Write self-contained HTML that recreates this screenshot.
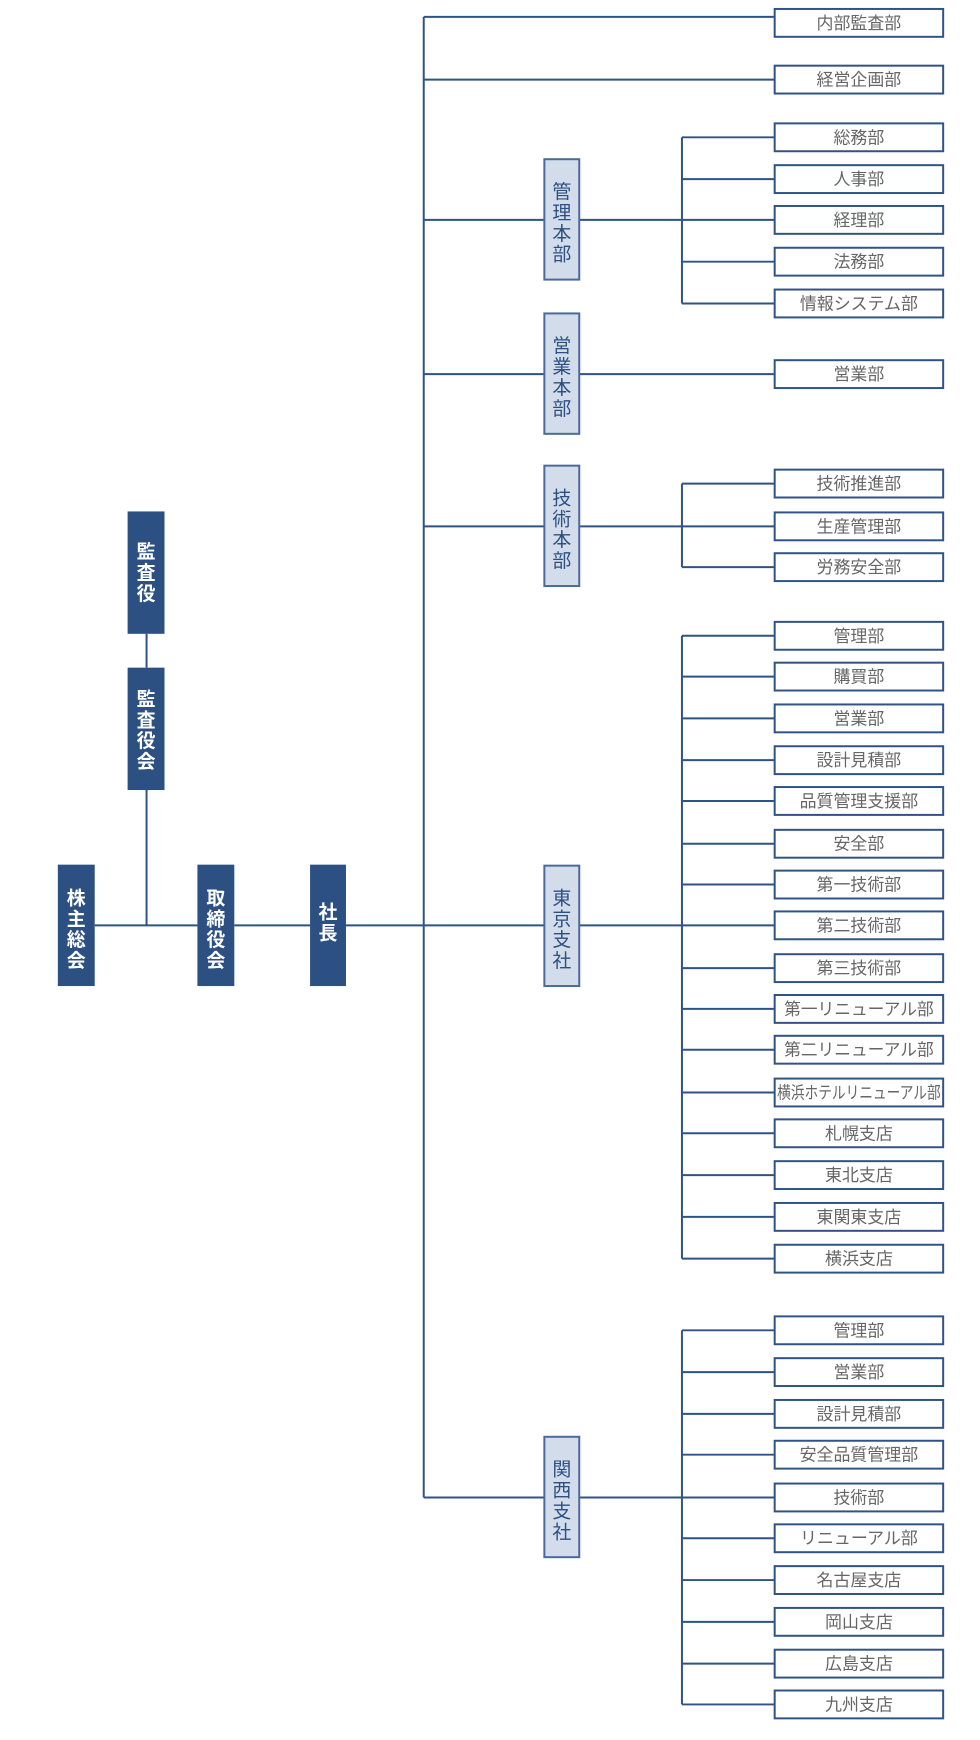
<!DOCTYPE html>
<html><head><meta charset="utf-8"><style>
html,body{margin:0;padding:0;background:#fff;width:980px;height:1740px;overflow:hidden}
svg text{font-family:"Liberation Sans","Noto Sans CJK JP",sans-serif}
</style></head><body>
<svg width="980" height="1740" viewBox="0 0 980 1740" xmlns="http://www.w3.org/2000/svg">
<g transform="scale(0.997,0.995)">
<g stroke="#2f5387" stroke-width="2" fill="none">
<path d="M425 17V1505"/>
<path d="M425 17H777M425 80H777M425 221H546M425 376H546M425 529H546M425 930H546M425 1505H546"/>
<path d="M95 930H198M235 930H311M347 930H425"/>
<path d="M147 637V671M147 794V930"/>
<path d="M581 221H684M684 138V305"/>
<path d="M581 376H777"/>
<path d="M581 529H684M684 486V570"/>
<path d="M581 930H684M684 639V1265"/>
<path d="M581 1505H684M684 1337V1713"/>
<path d="M684 138H777M684 180H777M684 221H777M684 263H777M684 305H777"/>
<path d="M684 486H777M684 529H777M684 570H777"/>
<path d="M684 639H777M684 680H777M684 722H777M684 764H777M684 805H777M684 848H777M684 889H777M684 930H777M684 973H777M684 1014H777M684 1055H777M684 1098H777M684 1139H777M684 1181H777M684 1223H777M684 1265H777"/>
<path d="M684 1337H777M684 1379H777M684 1421H777M684 1462H777M684 1505H777M684 1546H777M684 1588H777M684 1630H777M684 1672H777M684 1713H777"/>
</g>
<g fill="#2c5082">
<rect x="58" y="869" width="37" height="122"/>
<rect x="198" y="869" width="37" height="122"/>
<rect x="311" y="869" width="36" height="122"/>
<rect x="128" y="514" width="37" height="123"/>
<rect x="128" y="671" width="37" height="123"/>
</g>
<g fill="#fff" font-size="19" text-anchor="middle" font-weight="bold">
<text x="76.5" y="909">株</text><text x="76.5" y="930">主</text><text x="76.5" y="951">総</text><text x="76.5" y="972">会</text>
<text x="216.5" y="909">取</text><text x="216.5" y="930">締</text><text x="216.5" y="951">役</text><text x="216.5" y="972">会</text>
<text x="329" y="923">社</text><text x="329" y="944">長</text>
<text x="146.5" y="561">監</text><text x="146.5" y="582">査</text><text x="146.5" y="603">役</text>
<text x="146.5" y="709">監</text><text x="146.5" y="730">査</text><text x="146.5" y="751">役</text><text x="146.5" y="772">会</text>
</g>
<g fill="#d2dcea" stroke="#4a6a9a" stroke-width="2">
<rect x="546" y="160" width="35" height="121"/>
<rect x="546" y="315" width="35" height="121"/>
<rect x="546" y="468" width="35" height="121"/>
<rect x="546" y="870" width="35" height="121"/>
<rect x="546" y="1444" width="35" height="121"/>
</g>
<g fill="#2c5082" font-size="19" text-anchor="middle">
<text x="563.5" y="199">管</text><text x="563.5" y="220">理</text><text x="563.5" y="241">本</text><text x="563.5" y="262">部</text>
<text x="563.5" y="354">営</text><text x="563.5" y="375">業</text><text x="563.5" y="396">本</text><text x="563.5" y="417">部</text>
<text x="563.5" y="507">技</text><text x="563.5" y="528">術</text><text x="563.5" y="549">本</text><text x="563.5" y="570">部</text>
<text x="563.5" y="909">東</text><text x="563.5" y="930">京</text><text x="563.5" y="951">支</text><text x="563.5" y="972">社</text>
<text x="563.5" y="1483">関</text><text x="563.5" y="1504">西</text><text x="563.5" y="1525">支</text><text x="563.5" y="1546">社</text>
</g>
<g fill="#fff" stroke="#2f5387" stroke-width="2">
<rect x="777" y="9" width="169" height="28"/>
<rect x="777" y="66" width="169" height="28"/>
<rect x="777" y="124" width="169" height="28"/>
<rect x="777" y="166" width="169" height="28"/>
<rect x="777" y="207" width="169" height="28"/>
<rect x="777" y="249" width="169" height="28"/>
<rect x="777" y="291" width="169" height="28"/>
<rect x="777" y="362" width="169" height="28"/>
<rect x="777" y="472" width="169" height="28"/>
<rect x="777" y="515" width="169" height="28"/>
<rect x="777" y="556" width="169" height="28"/>
<rect x="777" y="625" width="169" height="28"/>
<rect x="777" y="666" width="169" height="28"/>
<rect x="777" y="708" width="169" height="28"/>
<rect x="777" y="750" width="169" height="28"/>
<rect x="777" y="791" width="169" height="28"/>
<rect x="777" y="834" width="169" height="28"/>
<rect x="777" y="875" width="169" height="28"/>
<rect x="777" y="916" width="169" height="28"/>
<rect x="777" y="959" width="169" height="28"/>
<rect x="777" y="1000" width="169" height="28"/>
<rect x="777" y="1041" width="169" height="28"/>
<rect x="777" y="1084" width="169" height="28"/>
<rect x="777" y="1125" width="169" height="28"/>
<rect x="777" y="1167" width="169" height="28"/>
<rect x="777" y="1209" width="169" height="28"/>
<rect x="777" y="1251" width="169" height="28"/>
<rect x="777" y="1323" width="169" height="28"/>
<rect x="777" y="1365" width="169" height="28"/>
<rect x="777" y="1407" width="169" height="28"/>
<rect x="777" y="1448" width="169" height="28"/>
<rect x="777" y="1491" width="169" height="28"/>
<rect x="777" y="1532" width="169" height="28"/>
<rect x="777" y="1574" width="169" height="28"/>
<rect x="777" y="1616" width="169" height="28"/>
<rect x="777" y="1658" width="169" height="28"/>
<rect x="777" y="1699" width="169" height="28"/>
</g>
<g fill="#666" font-size="17" text-anchor="middle">
<text x="861.5" y="29">内部監査部</text>
<text x="861.5" y="86">経営企画部</text>
<text x="861.5" y="144">総務部</text>
<text x="861.5" y="186">人事部</text>
<text x="861.5" y="227">経理部</text>
<text x="861.5" y="269">法務部</text>
<text x="861.5" y="311">情報システム部</text>
<text x="861.5" y="382">営業部</text>
<text x="861.5" y="492">技術推進部</text>
<text x="861.5" y="535">生産管理部</text>
<text x="861.5" y="576">労務安全部</text>
<text x="861.5" y="645">管理部</text>
<text x="861.5" y="686">購買部</text>
<text x="861.5" y="728">営業部</text>
<text x="861.5" y="770">設計見積部</text>
<text x="861.5" y="811">品質管理支援部</text>
<text x="861.5" y="854">安全部</text>
<text x="861.5" y="895">第一技術部</text>
<text x="861.5" y="936">第二技術部</text>
<text x="861.5" y="979">第三技術部</text>
<text x="861.5" y="1020" textLength="150" lengthAdjust="spacingAndGlyphs">第一リニューアル部</text>
<text x="861.5" y="1061" textLength="150" lengthAdjust="spacingAndGlyphs">第二リニューアル部</text>
<text x="861.5" y="1104" textLength="164" lengthAdjust="spacingAndGlyphs">横浜ホテルリニューアル部</text>
<text x="861.5" y="1145">札幌支店</text>
<text x="861.5" y="1187">東北支店</text>
<text x="861.5" y="1229">東関東支店</text>
<text x="861.5" y="1271">横浜支店</text>
<text x="861.5" y="1343">管理部</text>
<text x="861.5" y="1385">営業部</text>
<text x="861.5" y="1427">設計見積部</text>
<text x="861.5" y="1468">安全品質管理部</text>
<text x="861.5" y="1511">技術部</text>
<text x="861.5" y="1552">リニューアル部</text>
<text x="861.5" y="1594">名古屋支店</text>
<text x="861.5" y="1636">岡山支店</text>
<text x="861.5" y="1678">広島支店</text>
<text x="861.5" y="1719">九州支店</text>
</g>
</g>
</svg>
</body></html>
